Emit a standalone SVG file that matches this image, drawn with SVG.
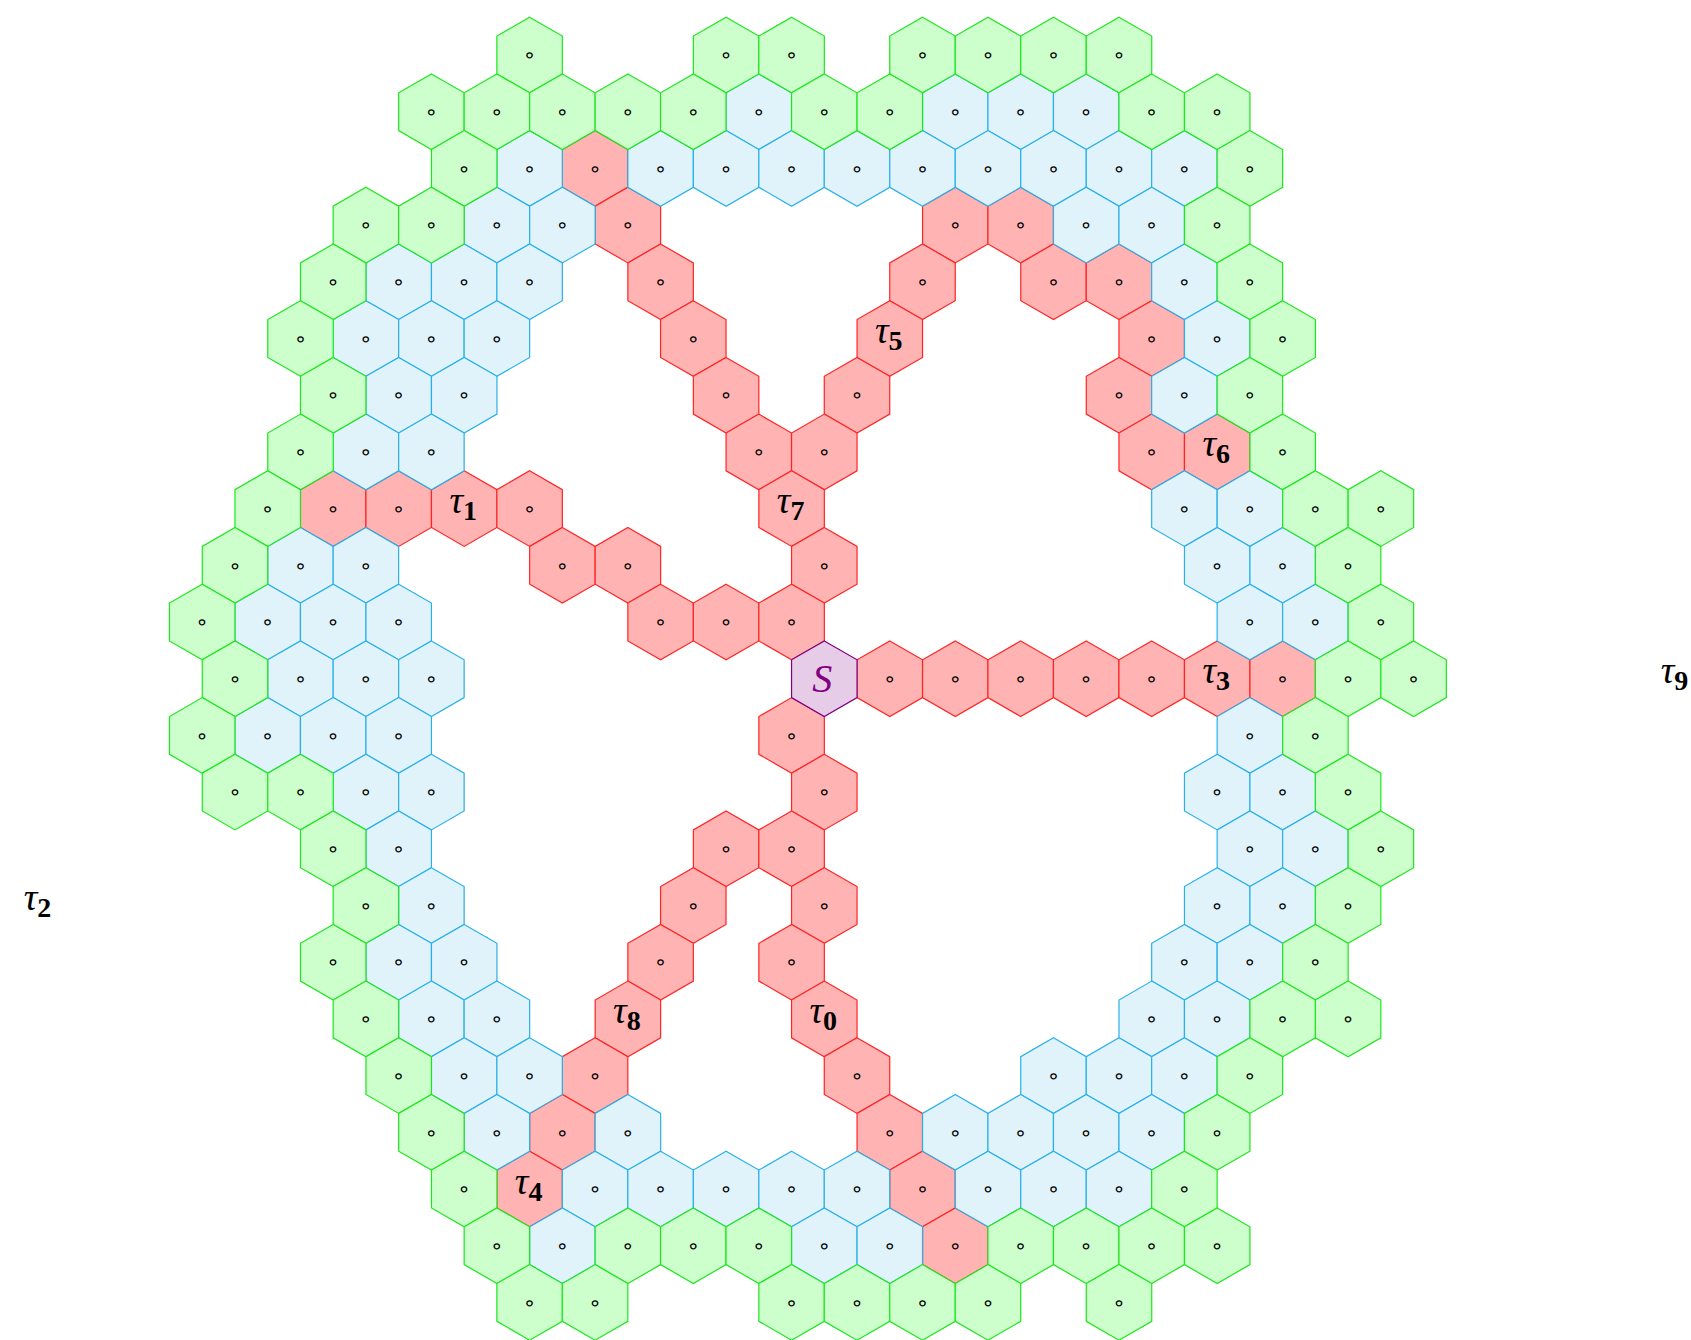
<svg xmlns="http://www.w3.org/2000/svg" xmlns:xlink="http://www.w3.org/1999/xlink" width="1691" height="1340" viewBox="0 0 1691 1340">
<defs>
<polygon id="h" points="0,-37.8 32.74,-18.9 32.74,18.9 0,37.8 -32.74,18.9 -32.74,-18.9"/>
</defs>
<style>
.rd use{fill:#FFB3B3;stroke:#FF2424;stroke-width:1.2}
.bl use{fill:#E0F3FA;stroke:#29B0EA;stroke-width:1.2}
.gr use{fill:#CCFFCC;stroke:#1EE61E;stroke-width:1.2}
.sx use{fill:#E6CCE6;stroke:#800080;stroke-width:1.2}
.o{font-family:"DejaVu Sans",sans-serif;font-size:21px;text-anchor:middle;fill:#000}
.tl{font-family:"Liberation Serif",serif;text-anchor:middle;fill:#000}
.ti{font-style:italic;font-size:38px}
.ts{font-weight:bold;font-size:28px}
.sl{font-family:"Liberation Serif",serif;font-style:italic;font-size:40px;fill:#800080;text-anchor:middle}
</style>
<rect width="1691" height="1340" fill="#FFFFFF"/>
<g id="connectors"/>
<g id="red-nodes">
<g id="n-r2-c-7" class="rd" transform="translate(595.1 168.4)"><use xlink:href="#h"/><text class="o" y="7.2">∘</text></g>
<g id="n-r3-c-6" class="rd" transform="translate(627.9 225.1)"><use xlink:href="#h"/><text class="o" y="7.2">∘</text></g>
<g id="n-r3-c4" class="rd" transform="translate(955.3 225.1)"><use xlink:href="#h"/><text class="o" y="7.2">∘</text></g>
<g id="n-r3-c6" class="rd" transform="translate(1020.7 225.1)"><use xlink:href="#h"/><text class="o" y="7.2">∘</text></g>
<g id="n-r4-c-5" class="rd" transform="translate(660.6 281.8)"><use xlink:href="#h"/><text class="o" y="7.2">∘</text></g>
<g id="n-r4-c3" class="rd" transform="translate(922.5 281.8)"><use xlink:href="#h"/><text class="o" y="7.2">∘</text></g>
<g id="n-r4-c7" class="rd" transform="translate(1053.5 281.8)"><use xlink:href="#h"/><text class="o" y="7.2">∘</text></g>
<g id="n-r4-c9" class="rd" transform="translate(1119 281.8)"><use xlink:href="#h"/><text class="o" y="7.2">∘</text></g>
<g id="n-r5-c-4" class="rd" transform="translate(693.3 338.5)"><use xlink:href="#h"/><text class="o" y="7.2">∘</text></g>
<g id="tau5" class="rd" transform="translate(889.8 338.5)"><use xlink:href="#h"/><text class="tl" x="-1" y="4.5"><tspan class="ti">τ</tspan><tspan class="ts" dy="7">5</tspan></text></g>
<g id="n-r5-c10" class="rd" transform="translate(1151.7 338.5)"><use xlink:href="#h"/><text class="o" y="7.2">∘</text></g>
<g id="n-r6-c-3" class="rd" transform="translate(726.1 395.2)"><use xlink:href="#h"/><text class="o" y="7.2">∘</text></g>
<g id="n-r6-c1" class="rd" transform="translate(857 395.2)"><use xlink:href="#h"/><text class="o" y="7.2">∘</text></g>
<g id="n-r6-c9" class="rd" transform="translate(1119 395.2)"><use xlink:href="#h"/><text class="o" y="7.2">∘</text></g>
<g id="n-r7-c-2" class="rd" transform="translate(758.8 451.9)"><use xlink:href="#h"/><text class="o" y="7.2">∘</text></g>
<g id="n-r7-c0" class="rd" transform="translate(824.3 451.9)"><use xlink:href="#h"/><text class="o" y="7.2">∘</text></g>
<g id="n-r7-c10" class="rd" transform="translate(1151.7 451.9)"><use xlink:href="#h"/><text class="o" y="7.2">∘</text></g>
<g id="tau6" class="rd" transform="translate(1217.2 451.9)"><use xlink:href="#h"/><text class="tl" x="-1" y="4.5"><tspan class="ti">τ</tspan><tspan class="ts" dy="7">6</tspan></text></g>
<g id="n-r8-c-15" class="rd" transform="translate(333.2 508.6)"><use xlink:href="#h"/><text class="o" y="7.2">∘</text></g>
<g id="n-r8-c-13" class="rd" transform="translate(398.7 508.6)"><use xlink:href="#h"/><text class="o" y="7.2">∘</text></g>
<g id="tau1" class="rd" transform="translate(464.2 508.6)"><use xlink:href="#h"/><text class="tl" x="-1" y="4.5"><tspan class="ti">τ</tspan><tspan class="ts" dy="7">1</tspan></text></g>
<g id="n-r8-c-9" class="rd" transform="translate(529.6 508.6)"><use xlink:href="#h"/><text class="o" y="7.2">∘</text></g>
<g id="tau7" class="rd" transform="translate(791.6 508.6)"><use xlink:href="#h"/><text class="tl" x="-1" y="4.5"><tspan class="ti">τ</tspan><tspan class="ts" dy="7">7</tspan></text></g>
<g id="n-r9-c-8" class="rd" transform="translate(562.4 565.3)"><use xlink:href="#h"/><text class="o" y="7.2">∘</text></g>
<g id="n-r9-c-6" class="rd" transform="translate(627.9 565.3)"><use xlink:href="#h"/><text class="o" y="7.2">∘</text></g>
<g id="n-r9-c0" class="rd" transform="translate(824.3 565.3)"><use xlink:href="#h"/><text class="o" y="7.2">∘</text></g>
<g id="n-r10-c-5" class="rd" transform="translate(660.6 622)"><use xlink:href="#h"/><text class="o" y="7.2">∘</text></g>
<g id="n-r10-c-3" class="rd" transform="translate(726.1 622)"><use xlink:href="#h"/><text class="o" y="7.2">∘</text></g>
<g id="n-r10-c-1" class="rd" transform="translate(791.6 622)"><use xlink:href="#h"/><text class="o" y="7.2">∘</text></g>
<g id="n-r11-c2" class="rd" transform="translate(889.8 678.7)"><use xlink:href="#h"/><text class="o" y="7.2">∘</text></g>
<g id="n-r11-c4" class="rd" transform="translate(955.3 678.7)"><use xlink:href="#h"/><text class="o" y="7.2">∘</text></g>
<g id="n-r11-c6" class="rd" transform="translate(1020.7 678.7)"><use xlink:href="#h"/><text class="o" y="7.2">∘</text></g>
<g id="n-r11-c8" class="rd" transform="translate(1086.2 678.7)"><use xlink:href="#h"/><text class="o" y="7.2">∘</text></g>
<g id="n-r11-c10" class="rd" transform="translate(1151.7 678.7)"><use xlink:href="#h"/><text class="o" y="7.2">∘</text></g>
<g id="tau3" class="rd" transform="translate(1217.2 678.7)"><use xlink:href="#h"/><text class="tl" x="-1" y="4.5"><tspan class="ti">τ</tspan><tspan class="ts" dy="7">3</tspan></text></g>
<g id="n-r11-c14" class="rd" transform="translate(1282.7 678.7)"><use xlink:href="#h"/><text class="o" y="7.2">∘</text></g>
<g id="n-r12-c-1" class="rd" transform="translate(791.6 735.4)"><use xlink:href="#h"/><text class="o" y="7.2">∘</text></g>
<g id="n-r13-c0" class="rd" transform="translate(824.3 792.1)"><use xlink:href="#h"/><text class="o" y="7.2">∘</text></g>
<g id="n-r14-c-3" class="rd" transform="translate(726.1 848.8)"><use xlink:href="#h"/><text class="o" y="7.2">∘</text></g>
<g id="n-r14-c-1" class="rd" transform="translate(791.6 848.8)"><use xlink:href="#h"/><text class="o" y="7.2">∘</text></g>
<g id="n-r15-c-4" class="rd" transform="translate(693.3 905.5)"><use xlink:href="#h"/><text class="o" y="7.2">∘</text></g>
<g id="n-r15-c0" class="rd" transform="translate(824.3 905.5)"><use xlink:href="#h"/><text class="o" y="7.2">∘</text></g>
<g id="n-r16-c-5" class="rd" transform="translate(660.6 962.2)"><use xlink:href="#h"/><text class="o" y="7.2">∘</text></g>
<g id="n-r16-c-1" class="rd" transform="translate(791.6 962.2)"><use xlink:href="#h"/><text class="o" y="7.2">∘</text></g>
<g id="tau8" class="rd" transform="translate(627.9 1018.9)"><use xlink:href="#h"/><text class="tl" x="-1" y="4.5"><tspan class="ti">τ</tspan><tspan class="ts" dy="7">8</tspan></text></g>
<g id="tau0" class="rd" transform="translate(824.3 1018.9)"><use xlink:href="#h"/><text class="tl" x="-1" y="4.5"><tspan class="ti">τ</tspan><tspan class="ts" dy="7">0</tspan></text></g>
<g id="n-r18-c-7" class="rd" transform="translate(595.1 1075.6)"><use xlink:href="#h"/><text class="o" y="7.2">∘</text></g>
<g id="n-r18-c1" class="rd" transform="translate(857 1075.6)"><use xlink:href="#h"/><text class="o" y="7.2">∘</text></g>
<g id="n-r19-c-8" class="rd" transform="translate(562.4 1132.3)"><use xlink:href="#h"/><text class="o" y="7.2">∘</text></g>
<g id="n-r19-c2" class="rd" transform="translate(889.8 1132.3)"><use xlink:href="#h"/><text class="o" y="7.2">∘</text></g>
<g id="tau4" class="rd" transform="translate(529.6 1189)"><use xlink:href="#h"/><text class="tl" x="-1" y="4.5"><tspan class="ti">τ</tspan><tspan class="ts" dy="7">4</tspan></text></g>
<g id="n-r20-c3" class="rd" transform="translate(922.5 1189)"><use xlink:href="#h"/><text class="o" y="7.2">∘</text></g>
<g id="n-r21-c4" class="rd" transform="translate(955.3 1245.7)"><use xlink:href="#h"/><text class="o" y="7.2">∘</text></g>
</g>
<g id="blue-nodes">
<g id="n-r1-c-2" class="bl" transform="translate(758.8 111.7)"><use xlink:href="#h"/><text class="o" y="7.2">∘</text></g>
<g id="n-r1-c4" class="bl" transform="translate(955.3 111.7)"><use xlink:href="#h"/><text class="o" y="7.2">∘</text></g>
<g id="n-r1-c6" class="bl" transform="translate(1020.7 111.7)"><use xlink:href="#h"/><text class="o" y="7.2">∘</text></g>
<g id="n-r1-c8" class="bl" transform="translate(1086.2 111.7)"><use xlink:href="#h"/><text class="o" y="7.2">∘</text></g>
<g id="n-r2-c-9" class="bl" transform="translate(529.6 168.4)"><use xlink:href="#h"/><text class="o" y="7.2">∘</text></g>
<g id="n-r2-c-5" class="bl" transform="translate(660.6 168.4)"><use xlink:href="#h"/><text class="o" y="7.2">∘</text></g>
<g id="n-r2-c-3" class="bl" transform="translate(726.1 168.4)"><use xlink:href="#h"/><text class="o" y="7.2">∘</text></g>
<g id="n-r2-c-1" class="bl" transform="translate(791.6 168.4)"><use xlink:href="#h"/><text class="o" y="7.2">∘</text></g>
<g id="n-r2-c1" class="bl" transform="translate(857 168.4)"><use xlink:href="#h"/><text class="o" y="7.2">∘</text></g>
<g id="n-r2-c3" class="bl" transform="translate(922.5 168.4)"><use xlink:href="#h"/><text class="o" y="7.2">∘</text></g>
<g id="n-r2-c5" class="bl" transform="translate(988 168.4)"><use xlink:href="#h"/><text class="o" y="7.2">∘</text></g>
<g id="n-r2-c7" class="bl" transform="translate(1053.5 168.4)"><use xlink:href="#h"/><text class="o" y="7.2">∘</text></g>
<g id="n-r2-c9" class="bl" transform="translate(1119 168.4)"><use xlink:href="#h"/><text class="o" y="7.2">∘</text></g>
<g id="n-r2-c11" class="bl" transform="translate(1184.4 168.4)"><use xlink:href="#h"/><text class="o" y="7.2">∘</text></g>
<g id="n-r3-c-10" class="bl" transform="translate(496.9 225.1)"><use xlink:href="#h"/><text class="o" y="7.2">∘</text></g>
<g id="n-r3-c-8" class="bl" transform="translate(562.4 225.1)"><use xlink:href="#h"/><text class="o" y="7.2">∘</text></g>
<g id="n-r3-c8" class="bl" transform="translate(1086.2 225.1)"><use xlink:href="#h"/><text class="o" y="7.2">∘</text></g>
<g id="n-r3-c10" class="bl" transform="translate(1151.7 225.1)"><use xlink:href="#h"/><text class="o" y="7.2">∘</text></g>
<g id="n-r4-c-13" class="bl" transform="translate(398.7 281.8)"><use xlink:href="#h"/><text class="o" y="7.2">∘</text></g>
<g id="n-r4-c-11" class="bl" transform="translate(464.2 281.8)"><use xlink:href="#h"/><text class="o" y="7.2">∘</text></g>
<g id="n-r4-c-9" class="bl" transform="translate(529.6 281.8)"><use xlink:href="#h"/><text class="o" y="7.2">∘</text></g>
<g id="n-r4-c11" class="bl" transform="translate(1184.4 281.8)"><use xlink:href="#h"/><text class="o" y="7.2">∘</text></g>
<g id="n-r5-c-14" class="bl" transform="translate(365.9 338.5)"><use xlink:href="#h"/><text class="o" y="7.2">∘</text></g>
<g id="n-r5-c-12" class="bl" transform="translate(431.4 338.5)"><use xlink:href="#h"/><text class="o" y="7.2">∘</text></g>
<g id="n-r5-c-10" class="bl" transform="translate(496.9 338.5)"><use xlink:href="#h"/><text class="o" y="7.2">∘</text></g>
<g id="n-r5-c12" class="bl" transform="translate(1217.2 338.5)"><use xlink:href="#h"/><text class="o" y="7.2">∘</text></g>
<g id="n-r6-c-13" class="bl" transform="translate(398.7 395.2)"><use xlink:href="#h"/><text class="o" y="7.2">∘</text></g>
<g id="n-r6-c-11" class="bl" transform="translate(464.2 395.2)"><use xlink:href="#h"/><text class="o" y="7.2">∘</text></g>
<g id="n-r6-c11" class="bl" transform="translate(1184.4 395.2)"><use xlink:href="#h"/><text class="o" y="7.2">∘</text></g>
<g id="n-r7-c-14" class="bl" transform="translate(365.9 451.9)"><use xlink:href="#h"/><text class="o" y="7.2">∘</text></g>
<g id="n-r7-c-12" class="bl" transform="translate(431.4 451.9)"><use xlink:href="#h"/><text class="o" y="7.2">∘</text></g>
<g id="n-r8-c11" class="bl" transform="translate(1184.4 508.6)"><use xlink:href="#h"/><text class="o" y="7.2">∘</text></g>
<g id="n-r8-c13" class="bl" transform="translate(1249.9 508.6)"><use xlink:href="#h"/><text class="o" y="7.2">∘</text></g>
<g id="n-r9-c-16" class="bl" transform="translate(300.5 565.3)"><use xlink:href="#h"/><text class="o" y="7.2">∘</text></g>
<g id="n-r9-c-14" class="bl" transform="translate(365.9 565.3)"><use xlink:href="#h"/><text class="o" y="7.2">∘</text></g>
<g id="n-r9-c12" class="bl" transform="translate(1217.2 565.3)"><use xlink:href="#h"/><text class="o" y="7.2">∘</text></g>
<g id="n-r9-c14" class="bl" transform="translate(1282.7 565.3)"><use xlink:href="#h"/><text class="o" y="7.2">∘</text></g>
<g id="n-r10-c-17" class="bl" transform="translate(267.7 622)"><use xlink:href="#h"/><text class="o" y="7.2">∘</text></g>
<g id="n-r10-c-15" class="bl" transform="translate(333.2 622)"><use xlink:href="#h"/><text class="o" y="7.2">∘</text></g>
<g id="n-r10-c-13" class="bl" transform="translate(398.7 622)"><use xlink:href="#h"/><text class="o" y="7.2">∘</text></g>
<g id="n-r10-c13" class="bl" transform="translate(1249.9 622)"><use xlink:href="#h"/><text class="o" y="7.2">∘</text></g>
<g id="n-r10-c15" class="bl" transform="translate(1315.4 622)"><use xlink:href="#h"/><text class="o" y="7.2">∘</text></g>
<g id="n-r11-c-16" class="bl" transform="translate(300.5 678.7)"><use xlink:href="#h"/><text class="o" y="7.2">∘</text></g>
<g id="n-r11-c-14" class="bl" transform="translate(365.9 678.7)"><use xlink:href="#h"/><text class="o" y="7.2">∘</text></g>
<g id="n-r11-c-12" class="bl" transform="translate(431.4 678.7)"><use xlink:href="#h"/><text class="o" y="7.2">∘</text></g>
<g id="n-r12-c-17" class="bl" transform="translate(267.7 735.4)"><use xlink:href="#h"/><text class="o" y="7.2">∘</text></g>
<g id="n-r12-c-15" class="bl" transform="translate(333.2 735.4)"><use xlink:href="#h"/><text class="o" y="7.2">∘</text></g>
<g id="n-r12-c-13" class="bl" transform="translate(398.7 735.4)"><use xlink:href="#h"/><text class="o" y="7.2">∘</text></g>
<g id="n-r12-c13" class="bl" transform="translate(1249.9 735.4)"><use xlink:href="#h"/><text class="o" y="7.2">∘</text></g>
<g id="n-r13-c-14" class="bl" transform="translate(365.9 792.1)"><use xlink:href="#h"/><text class="o" y="7.2">∘</text></g>
<g id="n-r13-c-12" class="bl" transform="translate(431.4 792.1)"><use xlink:href="#h"/><text class="o" y="7.2">∘</text></g>
<g id="n-r13-c12" class="bl" transform="translate(1217.2 792.1)"><use xlink:href="#h"/><text class="o" y="7.2">∘</text></g>
<g id="n-r13-c14" class="bl" transform="translate(1282.7 792.1)"><use xlink:href="#h"/><text class="o" y="7.2">∘</text></g>
<g id="n-r14-c-13" class="bl" transform="translate(398.7 848.8)"><use xlink:href="#h"/><text class="o" y="7.2">∘</text></g>
<g id="n-r14-c13" class="bl" transform="translate(1249.9 848.8)"><use xlink:href="#h"/><text class="o" y="7.2">∘</text></g>
<g id="n-r14-c15" class="bl" transform="translate(1315.4 848.8)"><use xlink:href="#h"/><text class="o" y="7.2">∘</text></g>
<g id="n-r15-c-12" class="bl" transform="translate(431.4 905.5)"><use xlink:href="#h"/><text class="o" y="7.2">∘</text></g>
<g id="n-r15-c12" class="bl" transform="translate(1217.2 905.5)"><use xlink:href="#h"/><text class="o" y="7.2">∘</text></g>
<g id="n-r15-c14" class="bl" transform="translate(1282.7 905.5)"><use xlink:href="#h"/><text class="o" y="7.2">∘</text></g>
<g id="n-r16-c-13" class="bl" transform="translate(398.7 962.2)"><use xlink:href="#h"/><text class="o" y="7.2">∘</text></g>
<g id="n-r16-c-11" class="bl" transform="translate(464.2 962.2)"><use xlink:href="#h"/><text class="o" y="7.2">∘</text></g>
<g id="n-r16-c11" class="bl" transform="translate(1184.4 962.2)"><use xlink:href="#h"/><text class="o" y="7.2">∘</text></g>
<g id="n-r16-c13" class="bl" transform="translate(1249.9 962.2)"><use xlink:href="#h"/><text class="o" y="7.2">∘</text></g>
<g id="n-r17-c-12" class="bl" transform="translate(431.4 1018.9)"><use xlink:href="#h"/><text class="o" y="7.2">∘</text></g>
<g id="n-r17-c-10" class="bl" transform="translate(496.9 1018.9)"><use xlink:href="#h"/><text class="o" y="7.2">∘</text></g>
<g id="n-r17-c10" class="bl" transform="translate(1151.7 1018.9)"><use xlink:href="#h"/><text class="o" y="7.2">∘</text></g>
<g id="n-r17-c12" class="bl" transform="translate(1217.2 1018.9)"><use xlink:href="#h"/><text class="o" y="7.2">∘</text></g>
<g id="n-r18-c-11" class="bl" transform="translate(464.2 1075.6)"><use xlink:href="#h"/><text class="o" y="7.2">∘</text></g>
<g id="n-r18-c-9" class="bl" transform="translate(529.6 1075.6)"><use xlink:href="#h"/><text class="o" y="7.2">∘</text></g>
<g id="n-r18-c7" class="bl" transform="translate(1053.5 1075.6)"><use xlink:href="#h"/><text class="o" y="7.2">∘</text></g>
<g id="n-r18-c9" class="bl" transform="translate(1119 1075.6)"><use xlink:href="#h"/><text class="o" y="7.2">∘</text></g>
<g id="n-r18-c11" class="bl" transform="translate(1184.4 1075.6)"><use xlink:href="#h"/><text class="o" y="7.2">∘</text></g>
<g id="n-r19-c-10" class="bl" transform="translate(496.9 1132.3)"><use xlink:href="#h"/><text class="o" y="7.2">∘</text></g>
<g id="n-r19-c-6" class="bl" transform="translate(627.9 1132.3)"><use xlink:href="#h"/><text class="o" y="7.2">∘</text></g>
<g id="n-r19-c4" class="bl" transform="translate(955.3 1132.3)"><use xlink:href="#h"/><text class="o" y="7.2">∘</text></g>
<g id="n-r19-c6" class="bl" transform="translate(1020.7 1132.3)"><use xlink:href="#h"/><text class="o" y="7.2">∘</text></g>
<g id="n-r19-c8" class="bl" transform="translate(1086.2 1132.3)"><use xlink:href="#h"/><text class="o" y="7.2">∘</text></g>
<g id="n-r19-c10" class="bl" transform="translate(1151.7 1132.3)"><use xlink:href="#h"/><text class="o" y="7.2">∘</text></g>
<g id="n-r20-c-7" class="bl" transform="translate(595.1 1189)"><use xlink:href="#h"/><text class="o" y="7.2">∘</text></g>
<g id="n-r20-c-5" class="bl" transform="translate(660.6 1189)"><use xlink:href="#h"/><text class="o" y="7.2">∘</text></g>
<g id="n-r20-c-3" class="bl" transform="translate(726.1 1189)"><use xlink:href="#h"/><text class="o" y="7.2">∘</text></g>
<g id="n-r20-c-1" class="bl" transform="translate(791.6 1189)"><use xlink:href="#h"/><text class="o" y="7.2">∘</text></g>
<g id="n-r20-c1" class="bl" transform="translate(857 1189)"><use xlink:href="#h"/><text class="o" y="7.2">∘</text></g>
<g id="n-r20-c5" class="bl" transform="translate(988 1189)"><use xlink:href="#h"/><text class="o" y="7.2">∘</text></g>
<g id="n-r20-c7" class="bl" transform="translate(1053.5 1189)"><use xlink:href="#h"/><text class="o" y="7.2">∘</text></g>
<g id="n-r20-c9" class="bl" transform="translate(1119 1189)"><use xlink:href="#h"/><text class="o" y="7.2">∘</text></g>
<g id="n-r21-c-8" class="bl" transform="translate(562.4 1245.7)"><use xlink:href="#h"/><text class="o" y="7.2">∘</text></g>
<g id="n-r21-c0" class="bl" transform="translate(824.3 1245.7)"><use xlink:href="#h"/><text class="o" y="7.2">∘</text></g>
<g id="n-r21-c2" class="bl" transform="translate(889.8 1245.7)"><use xlink:href="#h"/><text class="o" y="7.2">∘</text></g>
</g>
<g id="green-nodes">
<g id="n-r0-c-9" class="gr" transform="translate(529.6 55)"><use xlink:href="#h"/><text class="o" y="7.2">∘</text></g>
<g id="n-r0-c-3" class="gr" transform="translate(726.1 55)"><use xlink:href="#h"/><text class="o" y="7.2">∘</text></g>
<g id="n-r0-c-1" class="gr" transform="translate(791.6 55)"><use xlink:href="#h"/><text class="o" y="7.2">∘</text></g>
<g id="n-r0-c3" class="gr" transform="translate(922.5 55)"><use xlink:href="#h"/><text class="o" y="7.2">∘</text></g>
<g id="n-r0-c5" class="gr" transform="translate(988 55)"><use xlink:href="#h"/><text class="o" y="7.2">∘</text></g>
<g id="n-r0-c7" class="gr" transform="translate(1053.5 55)"><use xlink:href="#h"/><text class="o" y="7.2">∘</text></g>
<g id="n-r0-c9" class="gr" transform="translate(1119 55)"><use xlink:href="#h"/><text class="o" y="7.2">∘</text></g>
<g id="n-r1-c-12" class="gr" transform="translate(431.4 111.7)"><use xlink:href="#h"/><text class="o" y="7.2">∘</text></g>
<g id="n-r1-c-10" class="gr" transform="translate(496.9 111.7)"><use xlink:href="#h"/><text class="o" y="7.2">∘</text></g>
<g id="n-r1-c-8" class="gr" transform="translate(562.4 111.7)"><use xlink:href="#h"/><text class="o" y="7.2">∘</text></g>
<g id="n-r1-c-6" class="gr" transform="translate(627.9 111.7)"><use xlink:href="#h"/><text class="o" y="7.2">∘</text></g>
<g id="n-r1-c-4" class="gr" transform="translate(693.3 111.7)"><use xlink:href="#h"/><text class="o" y="7.2">∘</text></g>
<g id="n-r1-c0" class="gr" transform="translate(824.3 111.7)"><use xlink:href="#h"/><text class="o" y="7.2">∘</text></g>
<g id="n-r1-c2" class="gr" transform="translate(889.8 111.7)"><use xlink:href="#h"/><text class="o" y="7.2">∘</text></g>
<g id="n-r1-c10" class="gr" transform="translate(1151.7 111.7)"><use xlink:href="#h"/><text class="o" y="7.2">∘</text></g>
<g id="n-r1-c12" class="gr" transform="translate(1217.2 111.7)"><use xlink:href="#h"/><text class="o" y="7.2">∘</text></g>
<g id="n-r2-c-11" class="gr" transform="translate(464.2 168.4)"><use xlink:href="#h"/><text class="o" y="7.2">∘</text></g>
<g id="n-r2-c13" class="gr" transform="translate(1249.9 168.4)"><use xlink:href="#h"/><text class="o" y="7.2">∘</text></g>
<g id="n-r3-c-14" class="gr" transform="translate(365.9 225.1)"><use xlink:href="#h"/><text class="o" y="7.2">∘</text></g>
<g id="n-r3-c-12" class="gr" transform="translate(431.4 225.1)"><use xlink:href="#h"/><text class="o" y="7.2">∘</text></g>
<g id="n-r3-c12" class="gr" transform="translate(1217.2 225.1)"><use xlink:href="#h"/><text class="o" y="7.2">∘</text></g>
<g id="n-r4-c-15" class="gr" transform="translate(333.2 281.8)"><use xlink:href="#h"/><text class="o" y="7.2">∘</text></g>
<g id="n-r4-c13" class="gr" transform="translate(1249.9 281.8)"><use xlink:href="#h"/><text class="o" y="7.2">∘</text></g>
<g id="n-r5-c-16" class="gr" transform="translate(300.5 338.5)"><use xlink:href="#h"/><text class="o" y="7.2">∘</text></g>
<g id="n-r5-c14" class="gr" transform="translate(1282.7 338.5)"><use xlink:href="#h"/><text class="o" y="7.2">∘</text></g>
<g id="n-r6-c-15" class="gr" transform="translate(333.2 395.2)"><use xlink:href="#h"/><text class="o" y="7.2">∘</text></g>
<g id="n-r6-c13" class="gr" transform="translate(1249.9 395.2)"><use xlink:href="#h"/><text class="o" y="7.2">∘</text></g>
<g id="n-r7-c-16" class="gr" transform="translate(300.5 451.9)"><use xlink:href="#h"/><text class="o" y="7.2">∘</text></g>
<g id="n-r7-c14" class="gr" transform="translate(1282.7 451.9)"><use xlink:href="#h"/><text class="o" y="7.2">∘</text></g>
<g id="n-r8-c-17" class="gr" transform="translate(267.7 508.6)"><use xlink:href="#h"/><text class="o" y="7.2">∘</text></g>
<g id="n-r8-c15" class="gr" transform="translate(1315.4 508.6)"><use xlink:href="#h"/><text class="o" y="7.2">∘</text></g>
<g id="n-r8-c17" class="gr" transform="translate(1380.9 508.6)"><use xlink:href="#h"/><text class="o" y="7.2">∘</text></g>
<g id="n-r9-c-18" class="gr" transform="translate(235 565.3)"><use xlink:href="#h"/><text class="o" y="7.2">∘</text></g>
<g id="n-r9-c16" class="gr" transform="translate(1348.1 565.3)"><use xlink:href="#h"/><text class="o" y="7.2">∘</text></g>
<g id="n-r10-c-19" class="gr" transform="translate(202.2 622)"><use xlink:href="#h"/><text class="o" y="7.2">∘</text></g>
<g id="n-r10-c17" class="gr" transform="translate(1380.9 622)"><use xlink:href="#h"/><text class="o" y="7.2">∘</text></g>
<g id="n-r11-c-18" class="gr" transform="translate(235 678.7)"><use xlink:href="#h"/><text class="o" y="7.2">∘</text></g>
<g id="n-r11-c16" class="gr" transform="translate(1348.1 678.7)"><use xlink:href="#h"/><text class="o" y="7.2">∘</text></g>
<g id="n-r11-c18" class="gr" transform="translate(1413.6 678.7)"><use xlink:href="#h"/><text class="o" y="7.2">∘</text></g>
<g id="n-r12-c-19" class="gr" transform="translate(202.2 735.4)"><use xlink:href="#h"/><text class="o" y="7.2">∘</text></g>
<g id="n-r12-c15" class="gr" transform="translate(1315.4 735.4)"><use xlink:href="#h"/><text class="o" y="7.2">∘</text></g>
<g id="n-r13-c-18" class="gr" transform="translate(235 792.1)"><use xlink:href="#h"/><text class="o" y="7.2">∘</text></g>
<g id="n-r13-c-16" class="gr" transform="translate(300.5 792.1)"><use xlink:href="#h"/><text class="o" y="7.2">∘</text></g>
<g id="n-r13-c16" class="gr" transform="translate(1348.1 792.1)"><use xlink:href="#h"/><text class="o" y="7.2">∘</text></g>
<g id="n-r14-c-15" class="gr" transform="translate(333.2 848.8)"><use xlink:href="#h"/><text class="o" y="7.2">∘</text></g>
<g id="n-r14-c17" class="gr" transform="translate(1380.9 848.8)"><use xlink:href="#h"/><text class="o" y="7.2">∘</text></g>
<g id="n-r15-c-14" class="gr" transform="translate(365.9 905.5)"><use xlink:href="#h"/><text class="o" y="7.2">∘</text></g>
<g id="n-r15-c16" class="gr" transform="translate(1348.1 905.5)"><use xlink:href="#h"/><text class="o" y="7.2">∘</text></g>
<g id="n-r16-c-15" class="gr" transform="translate(333.2 962.2)"><use xlink:href="#h"/><text class="o" y="7.2">∘</text></g>
<g id="n-r16-c15" class="gr" transform="translate(1315.4 962.2)"><use xlink:href="#h"/><text class="o" y="7.2">∘</text></g>
<g id="n-r17-c-14" class="gr" transform="translate(365.9 1018.9)"><use xlink:href="#h"/><text class="o" y="7.2">∘</text></g>
<g id="n-r17-c14" class="gr" transform="translate(1282.7 1018.9)"><use xlink:href="#h"/><text class="o" y="7.2">∘</text></g>
<g id="n-r17-c16" class="gr" transform="translate(1348.1 1018.9)"><use xlink:href="#h"/><text class="o" y="7.2">∘</text></g>
<g id="n-r18-c-13" class="gr" transform="translate(398.7 1075.6)"><use xlink:href="#h"/><text class="o" y="7.2">∘</text></g>
<g id="n-r18-c13" class="gr" transform="translate(1249.9 1075.6)"><use xlink:href="#h"/><text class="o" y="7.2">∘</text></g>
<g id="n-r19-c-12" class="gr" transform="translate(431.4 1132.3)"><use xlink:href="#h"/><text class="o" y="7.2">∘</text></g>
<g id="n-r19-c12" class="gr" transform="translate(1217.2 1132.3)"><use xlink:href="#h"/><text class="o" y="7.2">∘</text></g>
<g id="n-r20-c-11" class="gr" transform="translate(464.2 1189)"><use xlink:href="#h"/><text class="o" y="7.2">∘</text></g>
<g id="n-r20-c11" class="gr" transform="translate(1184.4 1189)"><use xlink:href="#h"/><text class="o" y="7.2">∘</text></g>
<g id="n-r21-c-10" class="gr" transform="translate(496.9 1245.7)"><use xlink:href="#h"/><text class="o" y="7.2">∘</text></g>
<g id="n-r21-c-6" class="gr" transform="translate(627.9 1245.7)"><use xlink:href="#h"/><text class="o" y="7.2">∘</text></g>
<g id="n-r21-c-4" class="gr" transform="translate(693.3 1245.7)"><use xlink:href="#h"/><text class="o" y="7.2">∘</text></g>
<g id="n-r21-c-2" class="gr" transform="translate(758.8 1245.7)"><use xlink:href="#h"/><text class="o" y="7.2">∘</text></g>
<g id="n-r21-c6" class="gr" transform="translate(1020.7 1245.7)"><use xlink:href="#h"/><text class="o" y="7.2">∘</text></g>
<g id="n-r21-c8" class="gr" transform="translate(1086.2 1245.7)"><use xlink:href="#h"/><text class="o" y="7.2">∘</text></g>
<g id="n-r21-c10" class="gr" transform="translate(1151.7 1245.7)"><use xlink:href="#h"/><text class="o" y="7.2">∘</text></g>
<g id="n-r21-c12" class="gr" transform="translate(1217.2 1245.7)"><use xlink:href="#h"/><text class="o" y="7.2">∘</text></g>
<g id="n-r22-c-9" class="gr" transform="translate(529.6 1302.4)"><use xlink:href="#h"/><text class="o" y="7.2">∘</text></g>
<g id="n-r22-c-7" class="gr" transform="translate(595.1 1302.4)"><use xlink:href="#h"/><text class="o" y="7.2">∘</text></g>
<g id="n-r22-c-1" class="gr" transform="translate(791.6 1302.4)"><use xlink:href="#h"/><text class="o" y="7.2">∘</text></g>
<g id="n-r22-c1" class="gr" transform="translate(857 1302.4)"><use xlink:href="#h"/><text class="o" y="7.2">∘</text></g>
<g id="n-r22-c3" class="gr" transform="translate(922.5 1302.4)"><use xlink:href="#h"/><text class="o" y="7.2">∘</text></g>
<g id="n-r22-c5" class="gr" transform="translate(988 1302.4)"><use xlink:href="#h"/><text class="o" y="7.2">∘</text></g>
<g id="n-r22-c9" class="gr" transform="translate(1119 1302.4)"><use xlink:href="#h"/><text class="o" y="7.2">∘</text></g>
</g>
<g id="source" class="sx" transform="translate(824.3 678.7)"><use xlink:href="#h"/><text class="sl" x="-2" y="13.5">S</text></g>
<g id="tau2" transform="translate(38.5 905.5)"><text class="tl" x="-1" y="4.5"><tspan class="ti">τ</tspan><tspan class="ts" dy="7">2</tspan></text></g>
<g id="tau9" transform="translate(1675.5 678.7)"><text class="tl" x="-1" y="4.5"><tspan class="ti">τ</tspan><tspan class="ts" dy="7">9</tspan></text></g>
</svg>
